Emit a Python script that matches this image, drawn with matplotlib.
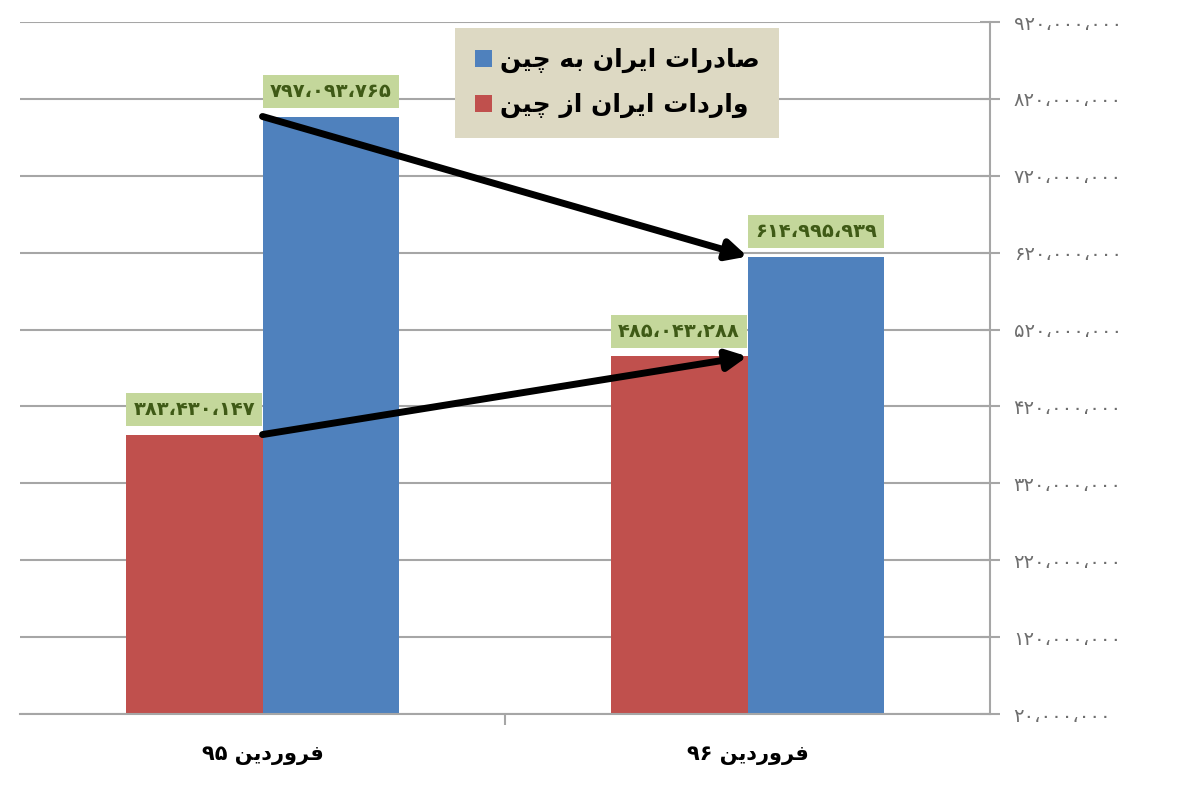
import re
import numpy as np
import matplotlib
matplotlib.use("Agg")
import matplotlib.pyplot as plt
from matplotlib.patches import Patch

# ------------------- data -------------------
categories = ["فروردین ۹۵", "فروردین ۹۶"]
series_names = ["صادرات ایران به چین", "واردات ایران از چین"]
exports = [797093765, 614995939]   # blue
imports = [383430147, 485043288]   # red
y_ticks = [20000000 + 100000000 * i for i in range(10)]

# ------------------- persian text helpers -------------------
# (isolated, final, initial, medial)
FORMS = {
    'ا': (0xFE8D, 0xFE8E, None, None),
    'ب': (0xFE8F, 0xFE90, 0xFE91, 0xFE92),
    'ت': (0xFE95, 0xFE96, 0xFE97, 0xFE98),
    'د': (0xFEA9, 0xFEAA, None, None),
    'ر': (0xFEAD, 0xFEAE, None, None),
    'ز': (0xFEAF, 0xFEB0, None, None),
    'ص': (0xFEB9, 0xFEBA, 0xFEBB, 0xFEBC),
    'ف': (0xFED1, 0xFED2, 0xFED3, 0xFED4),
    'ن': (0xFEE5, 0xFEE6, 0xFEE7, 0xFEE8),
    'ه': (0xFEE9, 0xFEEA, 0xFEEB, 0xFEEC),
    'و': (0xFEED, 0xFEEE, None, None),
    'ی': (0xFBFC, 0xFBFD, 0xFEF3, 0xFEF4),
    'چ': (0xFB7A, 0xFB7B, 0xFB7C, 0xFB7D),
}


def shape(text):
    out = []
    for i, c in enumerate(text):
        if c not in FORMS:
            out.append(c)
            continue
        prev = text[i - 1] if i > 0 else None
        nxt = text[i + 1] if i + 1 < len(text) else None
        jp = prev in FORMS and FORMS[prev][2] is not None
        jn = nxt in FORMS and FORMS[c][2] is not None
        iso, fin, ini, med = FORMS[c]
        if jp and jn:
            code = med
        elif jp:
            code = fin
        elif jn:
            code = ini
        else:
            code = iso
        out.append(chr(code))
    return ''.join(out)


def rtl(text):
    vis = shape(text)[::-1]
    # keep digit runs left-to-right
    return re.sub(r'[۰-۹،]+', lambda m: m.group(0)[::-1], vis)


def fa_num(v):
    s = f"{v:,}"
    return s.translate(str.maketrans("0123456789,", "۰۱۲۳۴۵۶۷۸۹،"))


# ------------------- plot -------------------
plt.rcParams['font.family'] = ['DejaVu Sans']
fig = plt.figure(figsize=(12, 7.92), dpi=100)
ax = fig.add_axes([20 / 1200, 78 / 792, 970 / 1200, 692 / 792])

red = '#c0504d'
blue = '#4f81bd'
grid_c = '#a6a6a6'
w = 0.282
x = np.arange(len(categories))

ax.bar(x - w / 2, imports, width=w, color=red, zorder=2)
ax.bar(x + w / 2, exports, width=w, color=blue, zorder=2)

ax.set_xlim(-0.5, 1.5)
ax.set_ylim(y_ticks[0], y_ticks[-1])
ax.set_yticks(y_ticks)
ax.set_yticklabels([fa_num(v) for v in y_ticks])
ax.yaxis.tick_right()
ax.tick_params(axis='y', direction='inout', length=14, width=1.5, color=grid_c,
               labelcolor='#6e6e6e', labelsize=14, pad=10)
ax.grid(axis='y', color=grid_c, lw=1.5, zorder=0)

ax.set_xticks([0.5], minor=True)
ax.set_xticks(x)
ax.set_xticklabels([rtl(c) for c in categories], fontsize=15, fontweight='bold')
ax.tick_params(axis='x', which='major', length=0, pad=22)
ax.tick_params(axis='x', which='minor', length=8, width=1.5, color=grid_c)

for s in ['top', 'left']:
    ax.spines[s].set_visible(False)
for s in ['right', 'bottom']:
    ax.spines[s].set_color(grid_c)
    ax.spines[s].set_linewidth(1.5)

# data labels
box = dict(boxstyle='square,pad=0.35', fc='#c4d79b', ec='none')
for xi, v in zip(x - w / 2, imports):
    ax.annotate(fa_num(v), (xi, v), xytext=(0, 18), textcoords='offset points',
                ha='center', va='center', fontsize=14, fontweight='bold',
                color='#3f5a16', bbox=box, zorder=5)
for xi, v in zip(x + w / 2, exports):
    ax.annotate(fa_num(v), (xi, v), xytext=(0, 18), textcoords='offset points',
                ha='center', va='center', fontsize=14, fontweight='bold',
                color='#3f5a16', bbox=box, zorder=5)

# trend arrows
for vals in (exports, imports):
    ax.annotate('', xy=(x[1], vals[1]), xytext=(x[0], vals[0]),
                arrowprops=dict(arrowstyle='-|>', lw=5, color='black',
                                mutation_scale=30, shrinkA=0, shrinkB=0),
                zorder=6)

handles = [Patch(facecolor=blue, label=rtl(series_names[0])),
           Patch(facecolor=red, label=rtl(series_names[1]))]
leg = ax.legend(handles=handles, loc='upper left', bbox_to_anchor=(0.448, 0.991),
                borderaxespad=0, frameon=True, fancybox=False,
                prop=dict(size=18, weight='bold'), handlelength=0.7,
                handleheight=0.7, handletextpad=0.3, labelspacing=0.8,
                borderpad=0.8)
leg.get_frame().set_facecolor('#ddd9c3')
leg.get_frame().set_edgecolor('none')
leg.get_frame().set_alpha(1)
leg.set_zorder(7)

fig.savefig('out.png', dpi=100)
